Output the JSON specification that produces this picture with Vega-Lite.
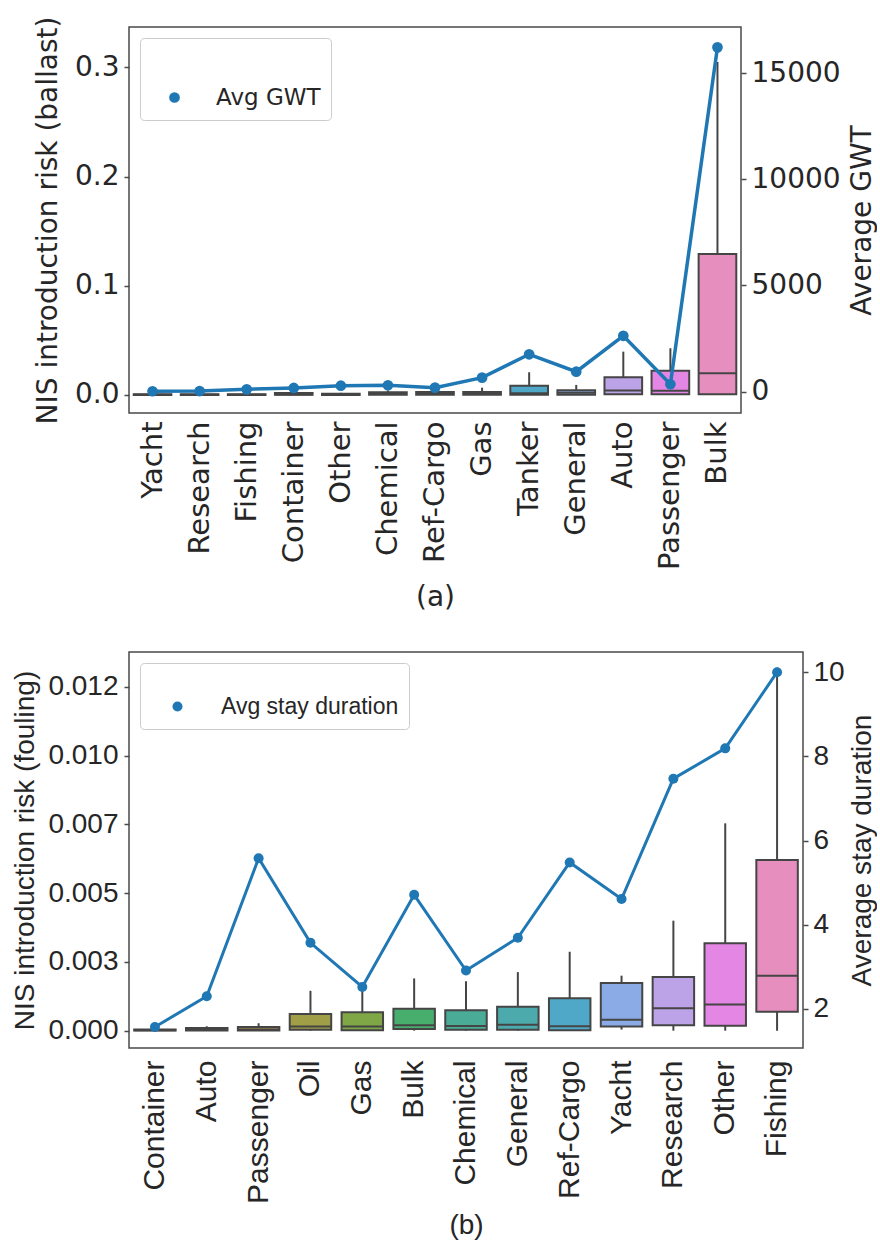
{
  "$schema": "https://vega.github.io/schema/vega-lite/v6.json",
  "background": "white",
  "padding": {"left": 11, "top": 15, "right": 0, "bottom": 0},
  "spacing": 38,
  "config": {
    "view": {"stroke": "#4a4a4a", "strokeWidth": 1.5},
    "axis": {"grid": false, "domain": false, "labelColor": "#262626", "titleColor": "#262626", "tickColor": "#4a4a4a", "tickWidth": 1.5, "tickSize": 5, "titleFontWeight": "normal"}
  },
  "resolve": {"scale": {"color": "independent", "fill": "independent"}, "legend": {"color": "independent"}},
  "vconcat": [
    {
      "width": 612,
      "height": 386,
      "data": {"values": [
        {"type": "Yacht", "lower": 0, "q1": 0, "median": 0.0002, "q3": 0.0006, "upper": 0.001, "gwt": 20},
        {"type": "Research", "lower": 0, "q1": 0, "median": 0.0002, "q3": 0.0006, "upper": 0.001, "gwt": 30},
        {"type": "Fishing", "lower": 0, "q1": 0, "median": 0.0002, "q3": 0.0007, "upper": 0.0012, "gwt": 110},
        {"type": "Container", "lower": 0, "q1": 0.0001, "median": 0.0005, "q3": 0.0018, "upper": 0.003, "gwt": 175},
        {"type": "Other", "lower": 0, "q1": 0, "median": 0.0003, "q3": 0.0012, "upper": 0.002, "gwt": 280},
        {"type": "Chemical", "lower": 0, "q1": 0.0002, "median": 0.0008, "q3": 0.0026, "upper": 0.004, "gwt": 300},
        {"type": "Ref-Cargo", "lower": 0, "q1": 0.0001, "median": 0.0008, "q3": 0.0027, "upper": 0.004, "gwt": 190},
        {"type": "Gas", "lower": 0, "q1": 0.0002, "median": 0.0009, "q3": 0.0027, "upper": 0.0067, "gwt": 660},
        {"type": "Tanker", "lower": 0, "q1": 0.0003, "median": 0.0015, "q3": 0.0085, "upper": 0.0208, "gwt": 1760},
        {"type": "General", "lower": 0, "q1": 0.0003, "median": 0.002, "q3": 0.0043, "upper": 0.0092, "gwt": 940},
        {"type": "Auto", "lower": 0, "q1": 0.0006, "median": 0.0042, "q3": 0.0162, "upper": 0.0397, "gwt": 2630},
        {"type": "Passenger", "lower": 0, "q1": 0.0006, "median": 0.0039, "q3": 0.0223, "upper": 0.0428, "gwt": 350},
        {"type": "Bulk", "lower": 0, "q1": 0.0006, "median": 0.0199, "q3": 0.129, "upper": 0.305, "gwt": 16210}
      ]},
      "encoding": {
        "x": {"field": "type", "type": "nominal", "sort": null,
          "scale": {"paddingInner": 0.2, "paddingOuter": 0.1},
          "axis": {"title": "(a)", "labelAngle": -90, "ticks": false, "labelFont": "DejaVu Sans", "labelFontSize": 29, "labelPadding": 8, "titleFont": "DejaVu Sans", "titleFontSize": 28, "titlePadding": 14}}
      },
      "layer": [
        {
          "layer": [
            {"mark": {"type": "rule", "color": "#454545", "strokeWidth": 2},
             "encoding": {
               "y": {"field": "lower", "type": "quantitative", "title": "NIS introduction risk (ballast)",
                 "scale": {"domain": [-0.0165, 0.337], "nice": false, "zero": false},
                 "axis": {"values": [0, 0.1, 0.2, 0.3], "format": ".1f", "labelFont": "DejaVu Sans", "labelFontSize": 28, "labelPadding": 5, "titleFont": "DejaVu Sans", "titleFontSize": 28, "titlePadding": 12}},
               "y2": {"field": "upper"}}},
            {"mark": {"type": "bar", "stroke": "#454545", "strokeWidth": 2},
             "encoding": {
               "y": {"field": "q1", "type": "quantitative", "title": "NIS introduction risk (ballast)"},
               "y2": {"field": "q3"},
               "fill": {"field": "type", "type": "nominal", "legend": null,
                 "scale": {"domain": ["Yacht", "Research", "Fishing", "Container", "Other", "Chemical", "Ref-Cargo", "Gas", "Tanker", "General", "Auto", "Passenger", "Bulk"],
                   "range": ["#e5828f", "#d48c4f", "#b89950", "#a09f48", "#80a746", "#48ae6e", "#4aac97", "#4caaad", "#50a8c9", "#8aa6e0", "#bca3e7", "#e487e4", "#e68fbf"]}}}},
            {"mark": {"type": "bar", "stroke": "#454545", "strokeWidth": 2, "fill": "#454545"},
             "encoding": {
               "y": {"field": "median", "type": "quantitative", "title": "NIS introduction risk (ballast)"},
               "y2": {"field": "median"}}}
          ]
        },
        {
          "layer": [
            {"mark": {"type": "line", "color": "#1f77b4", "strokeWidth": 3.5},
             "encoding": {
               "y": {"field": "gwt", "type": "quantitative", "title": "Average GWT",
                 "scale": {"domain": [-1004, 17168], "nice": false, "zero": false},
                 "axis": {"orient": "right", "values": [0, 5000, 10000, 15000], "format": "d", "labelFont": "DejaVu Sans", "labelFontSize": 28, "labelPadding": 5, "titleFont": "DejaVu Sans", "titleFontSize": 28, "titlePadding": 8, "titleAngle": 270, "titleBaseline": "top"}}}},
            {"mark": {"type": "point", "filled": true, "size": 115, "opacity": 1},
             "encoding": {
               "y": {"field": "gwt", "type": "quantitative", "title": "Average GWT"},
               "color": {"datum": "Avg GWT", "type": "nominal",
                 "scale": {"range": ["#1f77b4"]},
                 "legend": {"title": " ", "orient": "top-left", "offset": 11, "padding": 10, "fillColor": "white", "strokeColor": "#cccccc", "cornerRadius": 4, "titleFontSize": 28, "titlePadding": 10, "labelFont": "DejaVu Sans", "labelFontSize": 23, "labelLimit": 0, "labelColor": "#262626", "symbolType": "circle", "symbolSize": 115, "symbolOffset": 13, "labelOffset": 30, "symbolStrokeWidth": 0}}}}
          ]
        }
      ],
      "resolve": {"scale": {"y": "independent"}}
    },
    {
      "width": 674,
      "height": 396,
      "data": {"values": [
        {"type": "Container", "lower": 0, "q1": 0.00001, "median": 0.00002, "q3": 0.00004, "upper": 0.00006, "stay": 1.57},
        {"type": "Auto", "lower": 0, "q1": 0.00001, "median": 0.00003, "q3": 0.0001, "upper": 0.00016, "stay": 2.30},
        {"type": "Passenger", "lower": 0, "q1": 0.00001, "median": 0.00004, "q3": 0.00013, "upper": 0.00027, "stay": 5.58},
        {"type": "Oil", "lower": 0, "q1": 0.00003, "median": 0.00015, "q3": 0.00061, "upper": 0.00145, "stay": 3.57},
        {"type": "Gas", "lower": 0, "q1": 0.00002, "median": 0.00015, "q3": 0.00067, "upper": 0.00165, "stay": 2.52},
        {"type": "Bulk", "lower": 0, "q1": 0.00006, "median": 0.0002, "q3": 0.0008, "upper": 0.0019, "stay": 4.71},
        {"type": "Chemical", "lower": 0, "q1": 0.00003, "median": 0.00017, "q3": 0.00074, "upper": 0.0018, "stay": 2.91},
        {"type": "General", "lower": 0, "q1": 0.00003, "median": 0.00022, "q3": 0.00087, "upper": 0.00213, "stay": 3.69},
        {"type": "Ref-Cargo", "lower": 0, "q1": 0.00002, "median": 0.00016, "q3": 0.00118, "upper": 0.00287, "stay": 5.48},
        {"type": "Yacht", "lower": 0.00004, "q1": 0.00015, "median": 0.0004, "q3": 0.00173, "upper": 0.002, "stay": 4.61},
        {"type": "Research", "lower": 0, "q1": 0.0002, "median": 0.00082, "q3": 0.00195, "upper": 0.004, "stay": 7.47},
        {"type": "Other", "lower": 0, "q1": 0.00018, "median": 0.00095, "q3": 0.00318, "upper": 0.00754, "stay": 8.19},
        {"type": "Fishing", "lower": 0, "q1": 0.00069, "median": 0.002, "q3": 0.00621, "upper": 0.0132, "stay": 10.0}
      ]},
      "encoding": {
        "x": {"field": "type", "type": "nominal", "sort": null,
          "scale": {"paddingInner": 0.2, "paddingOuter": 0.1},
          "axis": {"title": "(b)", "labelAngle": -90, "ticks": false, "labelFont": "Liberation Sans", "labelFontSize": 30, "labelPadding": 12, "titleFont": "Liberation Sans", "titleFontSize": 28, "titlePadding": 8}}
      },
      "layer": [
        {
          "layer": [
            {"mark": {"type": "rule", "color": "#454545", "strokeWidth": 2},
             "encoding": {
               "y": {"field": "lower", "type": "quantitative", "title": "NIS introduction risk (fouling)",
                 "scale": {"domain": [-0.00063, 0.01377], "nice": false, "zero": false},
                 "axis": {"values": [0, 0.0025, 0.005, 0.0075, 0.01, 0.0125],
                   "labelExpr": "datum.value < 0.001 ? '0.000' : datum.value < 0.003 ? '0.003' : datum.value < 0.006 ? '0.005' : datum.value < 0.008 ? '0.007' : datum.value < 0.011 ? '0.010' : '0.012'",
                   "labelFont": "Liberation Sans", "labelFontSize": 28, "labelPadding": 6, "titleFont": "Liberation Sans", "titleFontSize": 28, "titlePadding": 8}},
               "y2": {"field": "upper"}}},
            {"mark": {"type": "bar", "stroke": "#454545", "strokeWidth": 2},
             "encoding": {
               "y": {"field": "q1", "type": "quantitative", "title": "NIS introduction risk (fouling)"},
               "y2": {"field": "q3"},
               "fill": {"field": "type", "type": "nominal", "legend": null,
                 "scale": {"domain": ["Container", "Auto", "Passenger", "Oil", "Gas", "Bulk", "Chemical", "General", "Ref-Cargo", "Yacht", "Research", "Other", "Fishing"],
                   "range": ["#e5828f", "#d48c4f", "#b89950", "#a09f48", "#80a746", "#48ae6e", "#4aac97", "#4caaad", "#50a8c9", "#8aabe6", "#bca3e7", "#e487e4", "#e68fbf"]}}}},
            {"mark": {"type": "bar", "stroke": "#454545", "strokeWidth": 2, "fill": "#454545"},
             "encoding": {
               "y": {"field": "median", "type": "quantitative", "title": "NIS introduction risk (fouling)"},
               "y2": {"field": "median"}}}
          ]
        },
        {
          "layer": [
            {"mark": {"type": "line", "color": "#1f77b4", "strokeWidth": 3},
             "encoding": {
               "y": {"field": "stay", "type": "quantitative", "title": "Average stay duration",
                 "scale": {"domain": [1.07, 10.48], "nice": false, "zero": false},
                 "axis": {"orient": "right", "values": [2, 4, 6, 8, 10], "format": "d", "labelFont": "Liberation Sans", "labelFontSize": 28, "labelPadding": 5, "titleFont": "Liberation Sans", "titleFontSize": 28, "titlePadding": 4, "titleAngle": 270, "titleBaseline": "top"}}}},
            {"mark": {"type": "point", "filled": true, "size": 100, "opacity": 1},
             "encoding": {
               "y": {"field": "stay", "type": "quantitative", "title": "Average stay duration"},
               "color": {"datum": "Avg stay duration", "type": "nominal",
                 "scale": {"range": ["#1f77b4"]},
                 "legend": {"title": " ", "orient": "top-left", "offset": 11, "padding": 10, "fillColor": "white", "strokeColor": "#cccccc", "cornerRadius": 4, "titleFontSize": 14, "titlePadding": 8, "labelFont": "Liberation Sans", "labelFontSize": 23, "labelLimit": 0, "labelColor": "#262626", "symbolType": "circle", "symbolSize": 100, "symbolOffset": 16, "labelOffset": 32, "symbolStrokeWidth": 0}}}}
          ]
        }
      ],
      "resolve": {"scale": {"y": "independent"}}
    }
  ]
}
